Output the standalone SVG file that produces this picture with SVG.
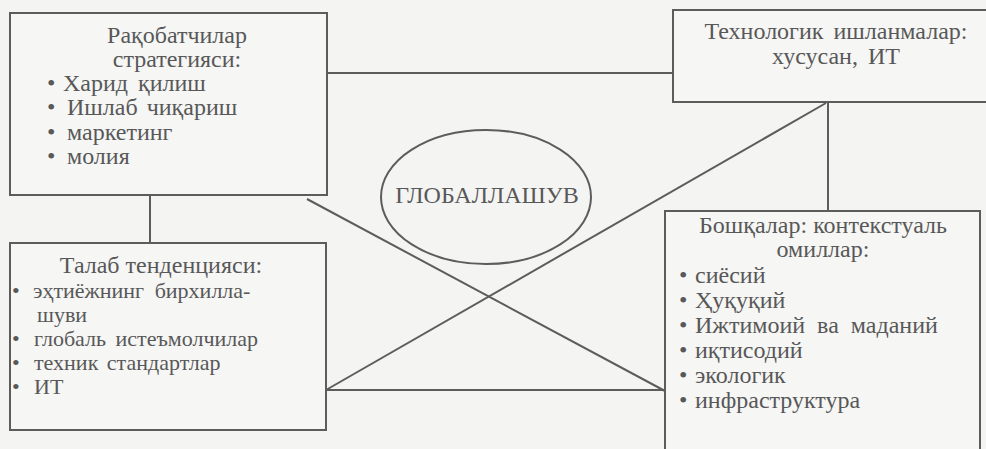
<svg xmlns="http://www.w3.org/2000/svg" width="986" height="449" viewBox="0 0 986 449">
  <style>
    .bg { fill: #f4f4f3; }
    .box { fill: #f6f6f5; stroke: #5c5c5c; stroke-width: 2; }
    .link { stroke: #5c5c5c; stroke-width: 2; fill: none; }
    .t { font-family: "Liberation Serif", "Times New Roman", serif; font-size: 24px; fill: #585858; }
    .s { font-size: 22px; }
    .c { text-anchor: middle; }
  </style>
  <rect class="bg" x="0" y="0" width="986" height="449"/>

  <!-- connectors -->
  <g id="connectors">
    <line class="link" x1="327" y1="73" x2="673" y2="73"/>
    <line class="link" x1="150" y1="195" x2="150" y2="243"/>
    <line class="link" x1="828" y1="102" x2="828" y2="211"/>
    <line class="link" x1="326" y1="390" x2="665" y2="390"/>
    <line class="link" x1="307" y1="199" x2="665" y2="391"/>
    <line class="link" x1="326" y1="390" x2="826" y2="103"/>
  </g>

  <!-- competitors' strategy -->
  <g id="strategy" class="t">
    <rect class="box" x="10" y="13" width="317" height="182"/>
    <text class="c" x="177" y="43">Рақобатчилар</text>
    <text class="c" x="177" y="67">стратегияси:</text>
    <text y="91"><tspan x="47">•</tspan><tspan x="63" word-spacing="4">Харид қилиш</tspan></text>
    <text y="115"><tspan x="47">•</tspan><tspan x="67" word-spacing="3">Ишлаб чиқариш</tspan></text>
    <text y="140"><tspan x="47">•</tspan><tspan x="67">маркетинг</tspan></text>
    <text y="164"><tspan x="47">•</tspan><tspan x="67">молия</tspan></text>
  </g>

  <!-- demand trends -->
  <g id="demand" class="t">
    <rect class="box" x="10" y="243" width="316" height="187"/>
    <text class="c" x="161" y="273">Талаб тенденцияси:</text>
    <text class="s" y="298"><tspan x="12">•</tspan><tspan x="33" word-spacing="5">эҳтиёжнинг бирхилла-</tspan></text>
    <text class="s" x="37" y="322">шуви</text>
    <text class="s" y="346"><tspan x="12">•</tspan><tspan x="34" word-spacing="4">глобаль истеъмолчилар</tspan></text>
    <text class="s" y="370"><tspan x="12">•</tspan><tspan x="34" word-spacing="3">техник стандартлар</tspan></text>
    <text class="s" y="394"><tspan x="12">•</tspan><tspan x="34">ИТ</tspan></text>
  </g>

  <!-- technology developments -->
  <g id="technology" class="t">
    <rect class="box" x="673" y="10" width="330" height="92"/>
    <text class="c" x="836" y="39" word-spacing="4">Технологик ишланмалар:</text>
    <text class="c" x="836" y="64" word-spacing="4">хусусан, ИТ</text>
  </g>

  <!-- contextual factors -->
  <g id="context" class="t">
    <rect class="box" x="665" y="211" width="315" height="250"/>
    <text class="c" x="823" y="233">Бошқалар: контекстуаль</text>
    <text class="c" x="823" y="257">омиллар:</text>
    <text y="283"><tspan x="679">•</tspan><tspan x="695">сиёсий</tspan></text>
    <text y="308"><tspan x="679">•</tspan><tspan x="695">Ҳуқуқий</tspan></text>
    <text y="333"><tspan x="679">•</tspan><tspan x="695" word-spacing="6">Ижтимоий ва маданий</tspan></text>
    <text y="358"><tspan x="679">•</tspan><tspan x="695">иқтисодий</tspan></text>
    <text y="383"><tspan x="679">•</tspan><tspan x="695">экологик</tspan></text>
    <text y="408"><tspan x="679">•</tspan><tspan x="695">инфраструктура</tspan></text>
  </g>

  <!-- centre -->
  <g id="globalization" class="t">
    <ellipse fill="none" stroke="#5c5c5c" stroke-width="2" cx="486" cy="197" rx="105" ry="67"/>
    <text class="c" x="487" y="203">ГЛОБАЛЛАШУВ</text>
  </g>
</svg>
